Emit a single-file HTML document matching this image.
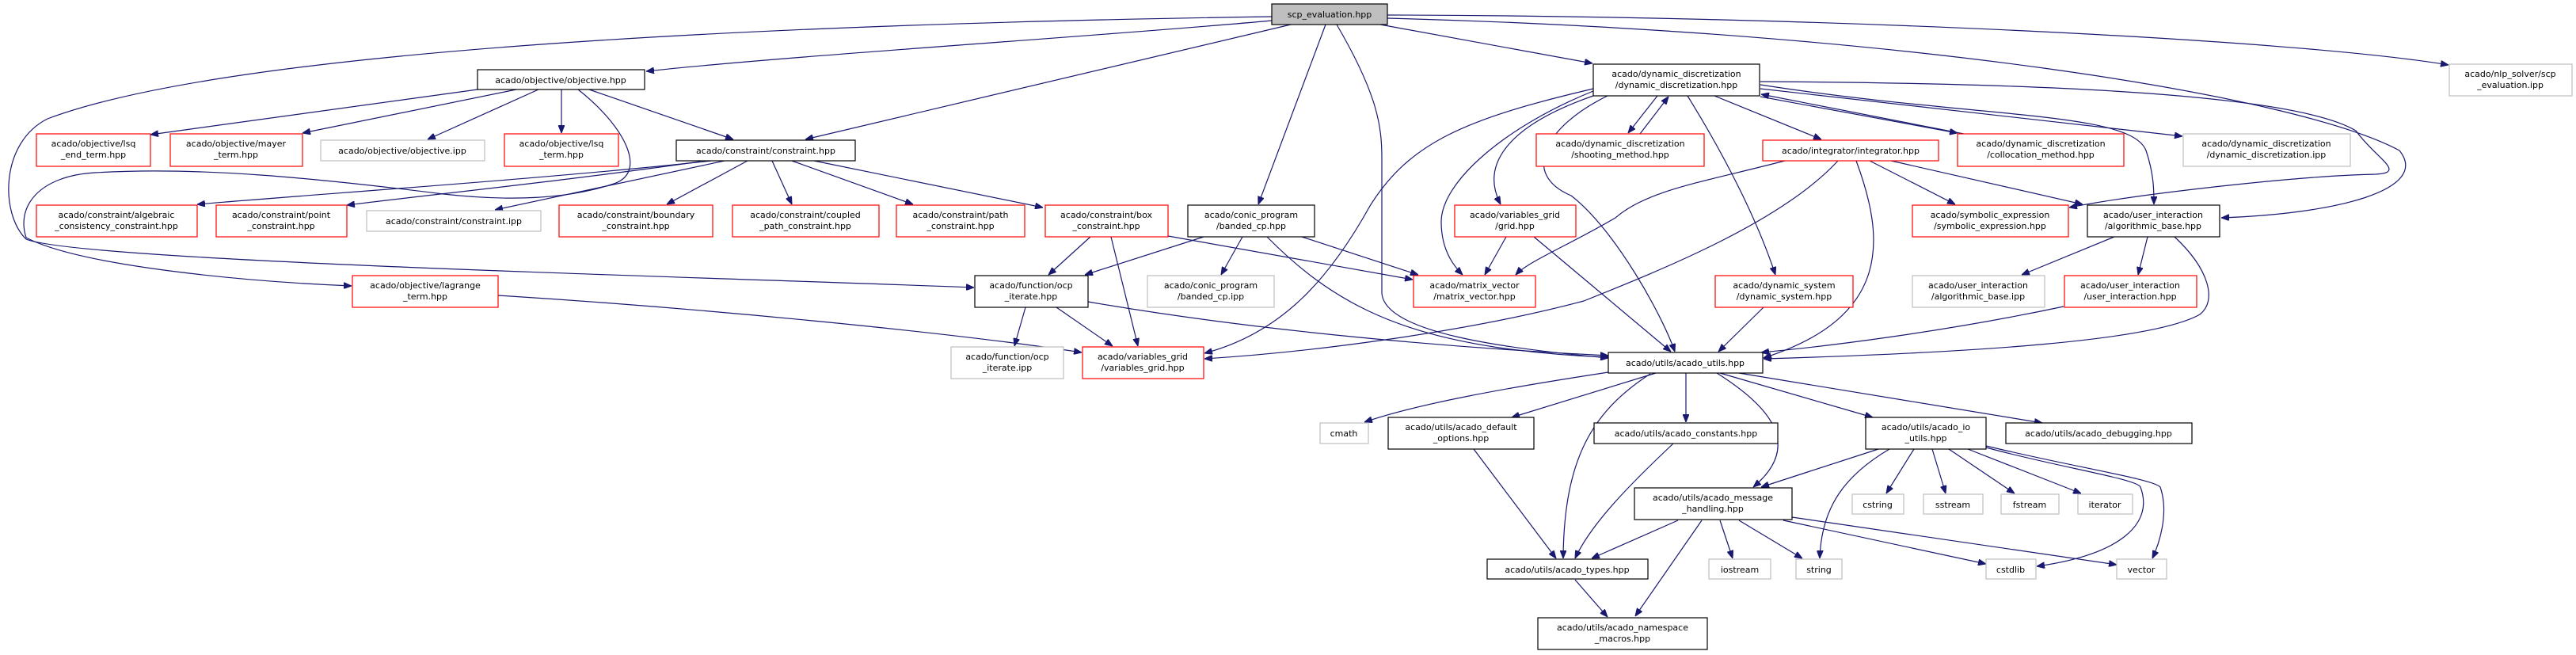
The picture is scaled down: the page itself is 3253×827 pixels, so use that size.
<!DOCTYPE html>
<html><head><meta charset="utf-8"><style>
html,body{margin:0;padding:0;background:#fff;}
svg{display:block;}
text{font-family:"DejaVu Sans","Liberation Sans",sans-serif;font-size:11px;fill:#000;text-anchor:middle;}
.e{fill:none;stroke:#191970;stroke-width:1.2;marker-end:url(#a);}
.k{fill:#fff;stroke:#000;stroke-width:1.2;}
.r{fill:#fff;stroke:#ff0000;stroke-width:1.2;}
.g{fill:#fff;stroke:#bfbfbf;stroke-width:1.2;}
</style></head><body>
<svg width="3253" height="827" viewBox="0 0 3253 827" xmlns="http://www.w3.org/2000/svg">
<defs><marker id="a" markerWidth="10" markerHeight="8" refX="10" refY="4" orient="auto" markerUnits="userSpaceOnUse"><path d="M0,0 L10,4 L0,8 Z" fill="#191970" stroke="#191970"/></marker></defs>
<g>
<!-- scp edges -->
<path class="e" d="M1606,26 C1400,45 1000,70 816,90"/>
<path class="e" d="M1630,31 L1017,176"/>
<path class="e" d="M1606,21 C1000,30 300,60 60,150 C0,180 0,270 33,302 C100,330 900,350 1230,363"/>
<path class="e" d="M1674,31 L1589,258"/>
<path class="e" d="M1688,31 C1740,120 1745,160 1745,200 L1745,370 C1748,420 1900,440 2031,452"/>
<path class="e" d="M1743,31 L2011,80"/>
<path class="e" d="M1752,19 C2300,20 2900,50 3092,82"/>
<path class="e" d="M1752,23 C2400,40 2900,120 3030,190 C3070,240 2950,270 2805,275"/>
<!-- objective -->
<path class="e" d="M603,113 L190,170"/>
<path class="e" d="M652,113 L382,168"/>
<path class="e" d="M680,113 L540,176"/>
<path class="e" d="M709,113 L709,168"/>
<path class="e" d="M744,113 L926,176"/>
<path class="e" d="M730,113 C790,160 820,220 772,233 C720,250 650,255 560,245 C400,225 250,210 120,218 C50,222 20,260 33,300 C100,335 300,355 444,361"/>
<!-- constraint -->
<path class="e" d="M898,203 C700,225 400,245 249,258"/>
<path class="e" d="M884,204 C700,230 550,245 438,259"/>
<path class="e" d="M915,203 L625,265"/>
<path class="e" d="M944,203 L842,258"/>
<path class="e" d="M975,203 L1000,258"/>
<path class="e" d="M1000,203 L1153,258"/>
<path class="e" d="M1028,203 L1317,262"/>
<!-- lagrange -->
<path class="e" d="M629,373 C900,390 1200,420 1366,445"/>
<!-- box -->
<path class="e" d="M1377,299 L1324,347"/>
<path class="e" d="M1403,299 L1437,437"/>
<path class="e" d="M1475,298 L1784,353"/>
<!-- banded -->
<path class="e" d="M1520,299 L1370,347"/>
<path class="e" d="M1569,299 L1542,347"/>
<path class="e" d="M1644,299 L1791,347"/>
<path class="e" d="M1600,299 C1680,380 1760,420 1900,440 C1960,448 2000,450 2031,451"/>
<!-- ocp -->
<path class="e" d="M1295,388 L1281,437"/>
<path class="e" d="M1334,388 L1405,437"/>
<path class="e" d="M1374,381 C1600,420 1850,440 2031,449"/>
<!-- dyn -->
<path class="e" d="M2012,112 C1850,150 1780,180 1730,260 C1680,350 1620,420 1521,446"/>
<path class="e" d="M2012,115 C1900,160 1820,230 1820,280 C1820,320 1840,340 1847,347"/>
<path class="e" d="M2012,121 C1900,160 1870,210 1895,258"/>
<path class="e" d="M2030,121 C1950,160 1920,220 1984,247 C2040,290 2100,400 2115,444"/>
<path class="e" d="M2093,121 L2056,168"/>
<path class="e" d="M2071,169 L2107,122"/>
<path class="e" d="M2131,121 C2180,200 2220,280 2242,347"/>
<path class="e" d="M2165,121 L2300,176"/>
<path class="e" d="M2223,122 L2472,168"/>
<path class="e" d="M2485,170 L2224,119"/>
<path class="e" d="M2223,112 L2756,172"/>
<path class="e" d="M2223,107 C2500,150 2690,140 2710,190 C2720,220 2720,240 2720,258"/>
<path class="e" d="M2223,103 C2600,105 2900,120 2975,165 C3000,200 3040,218 3000,220 C2900,222 2700,245 2613,262"/>
<!-- integrator -->
<path class="e" d="M2254,203 C2150,230 2080,240 2040,275 C1980,310 1930,330 1914,347"/>
<path class="e" d="M2321,203 C2250,280 2100,340 2000,380 C1850,420 1650,445 1521,453"/>
<path class="e" d="M2344,203 C2380,300 2390,400 2227,452"/>
<path class="e" d="M2361,203 L2469,258"/>
<path class="e" d="M2388,203 L2630,258"/>
<!-- algb -->
<path class="e" d="M2670,299 L2553,347"/>
<path class="e" d="M2712,299 L2700,347"/>
<path class="e" d="M2746,299 C2790,340 2800,380 2778,397 C2720,430 2500,445 2227,453"/>
<path class="e" d="M2606,387 C2450,420 2300,438 2224,445"/>
<path class="e" d="M2227,388 L2170,444"/>
<!-- grid -->
<path class="e" d="M1902,299 L1875,347"/>
<path class="e" d="M1937,299 L2110,444"/>
<!-- utils -->
<path class="e" d="M2031,470 C1900,490 1790,510 1723,533"/>
<path class="e" d="M2091,471 L1909,527"/>
<path class="e" d="M2084,472 C2010,520 1975,580 1974,705"/>
<path class="e" d="M2129,471 L2129,533"/>
<path class="e" d="M2168,471 C2230,510 2280,560 2214,615"/>
<path class="e" d="M2172,471 L2365,527"/>
<path class="e" d="M2196,471 L2579,534"/>
<path class="e" d="M1861,567 L1965,705"/>
<path class="e" d="M2113,560 C2060,610 2010,660 1989,705"/>
<!-- io -->
<path class="e" d="M2372,567 L2224,615"/>
<path class="e" d="M2386,567 C2330,600 2300,640 2298,705"/>
<path class="e" d="M2417,567 L2382,623"/>
<path class="e" d="M2440,567 L2457,623"/>
<path class="e" d="M2461,567 L2544,623"/>
<path class="e" d="M2485,567 L2628,623"/>
<path class="e" d="M2508,565 C2600,590 2700,605 2703,615 C2720,660 2680,700 2572,715"/>
<path class="e" d="M2508,563 C2620,590 2720,605 2728,615 C2740,650 2725,690 2718,705"/>
<!-- msg -->
<path class="e" d="M2119,657 L2010,705"/>
<path class="e" d="M2149,657 L2065,778"/>
<path class="e" d="M2172,657 L2188,705"/>
<path class="e" d="M2196,657 L2276,705"/>
<path class="e" d="M2252,657 L2508,712"/>
<path class="e" d="M2263,653 L2673,713"/>
<path class="e" d="M1989,732 L2030,779"/>
</g>
<g>
<rect x="1606" y="5" width="146" height="26" fill="#bfbfbf" stroke="#000" stroke-width="1.2"/><text x="1679" y="22">scp_evaluation.hpp</text>
<rect class="k" x="603" y="88" width="211" height="25"/><text x="708" y="105">acado/objective/objective.hpp</text>
<rect class="k" x="2012" y="81" width="210" height="40"/><text x="2117" y="97">acado/dynamic_discretization</text><text x="2117" y="111">/dynamic_discretization.hpp</text>
<rect class="g" x="3093" y="81" width="155" height="40"/><text x="3170" y="97">acado/nlp_solver/scp</text><text x="3170" y="111">_evaluation.ipp</text>
<rect class="r" x="46" y="169" width="144" height="41"/><text x="118" y="185">acado/objective/lsq</text><text x="118" y="199">_end_term.hpp</text>
<rect class="r" x="215" y="169" width="167" height="41"/><text x="298" y="185">acado/objective/mayer</text><text x="298" y="199">_term.hpp</text>
<rect class="g" x="405" y="177" width="207" height="26"/><text x="508" y="194">acado/objective/objective.ipp</text>
<rect class="r" x="637" y="169" width="144" height="41"/><text x="709" y="185">acado/objective/lsq</text><text x="709" y="199">_term.hpp</text>
<rect class="k" x="854" y="177" width="226" height="26"/><text x="967" y="194">acado/constraint/constraint.hpp</text>
<rect class="r" x="1940" y="169" width="212" height="41"/><text x="2046" y="185">acado/dynamic_discretization</text><text x="2046" y="199">/shooting_method.hpp</text>
<rect class="r" x="2226" y="177" width="222" height="26"/><text x="2337" y="194">acado/integrator/integrator.hpp</text>
<rect class="r" x="2472" y="169" width="210" height="41"/><text x="2577" y="185">acado/dynamic_discretization</text><text x="2577" y="199">/collocation_method.hpp</text>
<rect class="g" x="2757" y="169" width="211" height="41"/><text x="2862" y="185">acado/dynamic_discretization</text><text x="2862" y="199">/dynamic_discretization.ipp</text>
<rect class="r" x="46" y="259" width="203" height="40"/><text x="147" y="275">acado/constraint/algebraic</text><text x="147" y="289">_consistency_constraint.hpp</text>
<rect class="r" x="273" y="259" width="165" height="40"/><text x="355" y="275">acado/constraint/point</text><text x="355" y="289">_constraint.hpp</text>
<rect class="g" x="463" y="266" width="220" height="26"/><text x="573" y="283">acado/constraint/constraint.ipp</text>
<rect class="r" x="706" y="259" width="194" height="40"/><text x="803" y="275">acado/constraint/boundary</text><text x="803" y="289">_constraint.hpp</text>
<rect class="r" x="925" y="259" width="185" height="40"/><text x="1017" y="275">acado/constraint/coupled</text><text x="1017" y="289">_path_constraint.hpp</text>
<rect class="r" x="1132" y="259" width="162" height="40"/><text x="1213" y="275">acado/constraint/path</text><text x="1213" y="289">_constraint.hpp</text>
<rect class="r" x="1320" y="259" width="155" height="40"/><text x="1397" y="275">acado/constraint/box</text><text x="1397" y="289">_constraint.hpp</text>
<rect class="k" x="1500" y="259" width="160" height="40"/><text x="1580" y="275">acado/conic_program</text><text x="1580" y="289">/banded_cp.hpp</text>
<rect class="r" x="1837" y="259" width="153" height="40"/><text x="1913" y="275">acado/variables_grid</text><text x="1913" y="289">/grid.hpp</text>
<rect class="r" x="2415" y="259" width="197" height="40"/><text x="2513" y="275">acado/symbolic_expression</text><text x="2513" y="289">/symbolic_expression.hpp</text>
<rect class="k" x="2636" y="259" width="167" height="40"/><text x="2719" y="275">acado/user_interaction</text><text x="2719" y="289">/algorithmic_base.hpp</text>
<rect class="r" x="445" y="348" width="184" height="40"/><text x="537" y="364">acado/objective/lagrange</text><text x="537" y="378">_term.hpp</text>
<rect class="k" x="1231" y="348" width="143" height="40"/><text x="1302" y="364">acado/function/ocp</text><text x="1302" y="378">_iterate.hpp</text>
<rect class="g" x="1449" y="348" width="160" height="40"/><text x="1529" y="364">acado/conic_program</text><text x="1529" y="378">/banded_cp.ipp</text>
<rect class="r" x="1785" y="348" width="154" height="40"/><text x="1862" y="364">acado/matrix_vector</text><text x="1862" y="378">/matrix_vector.hpp</text>
<rect class="r" x="2166" y="348" width="174" height="40"/><text x="2253" y="364">acado/dynamic_system</text><text x="2253" y="378">/dynamic_system.hpp</text>
<rect class="g" x="2415" y="348" width="167" height="40"/><text x="2498" y="364">acado/user_interaction</text><text x="2498" y="378">/algorithmic_base.ipp</text>
<rect class="r" x="2607" y="348" width="167" height="40"/><text x="2690" y="364">acado/user_interaction</text><text x="2690" y="378">/user_interaction.hpp</text>
<rect class="g" x="1201" y="438" width="142" height="40"/><text x="1272" y="454">acado/function/ocp</text><text x="1272" y="468">_iterate.ipp</text>
<rect class="r" x="1367" y="438" width="153" height="40"/><text x="1443" y="454">acado/variables_grid</text><text x="1443" y="468">/variables_grid.hpp</text>
<rect class="k" x="2031" y="445" width="195" height="26"/><text x="2128" y="462">acado/utils/acado_utils.hpp</text>
<rect class="g" x="1667" y="534" width="61" height="26"/><text x="1697" y="551">cmath</text>
<rect class="k" x="1753" y="527" width="184" height="40"/><text x="1845" y="543">acado/utils/acado_default</text><text x="1845" y="557">_options.hpp</text>
<rect class="k" x="2013" y="534" width="232" height="26"/><text x="2129" y="551">acado/utils/acado_constants.hpp</text>
<rect class="k" x="2356" y="527" width="152" height="40"/><text x="2432" y="543">acado/utils/acado_io</text><text x="2432" y="557">_utils.hpp</text>
<rect class="k" x="2533" y="534" width="235" height="26"/><text x="2650" y="551">acado/utils/acado_debugging.hpp</text>
<rect class="k" x="2064" y="616" width="199" height="40"/><text x="2163" y="632">acado/utils/acado_message</text><text x="2163" y="646">_handling.hpp</text>
<rect class="g" x="2339" y="624" width="65" height="25"/><text x="2371" y="641">cstring</text>
<rect class="g" x="2429" y="624" width="75" height="25"/><text x="2466" y="641">sstream</text>
<rect class="g" x="2527" y="624" width="73" height="25"/><text x="2563" y="641">fstream</text>
<rect class="g" x="2624" y="624" width="69" height="25"/><text x="2658" y="641">iterator</text>
<rect class="k" x="1878" y="706" width="203" height="25"/><text x="1979" y="723">acado/utils/acado_types.hpp</text>
<rect class="g" x="2158" y="706" width="78" height="25"/><text x="2197" y="723">iostream</text>
<rect class="g" x="2268" y="706" width="58" height="25"/><text x="2297" y="723">string</text>
<rect class="g" x="2508" y="706" width="63" height="25"/><text x="2539" y="723">cstdlib</text>
<rect class="g" x="2673" y="706" width="63" height="25"/><text x="2704" y="723">vector</text>
<rect class="k" x="1942" y="780" width="214" height="40"/><text x="2049" y="796">acado/utils/acado_namespace</text><text x="2049" y="810">_macros.hpp</text>
</g>
</svg>
</body></html>
